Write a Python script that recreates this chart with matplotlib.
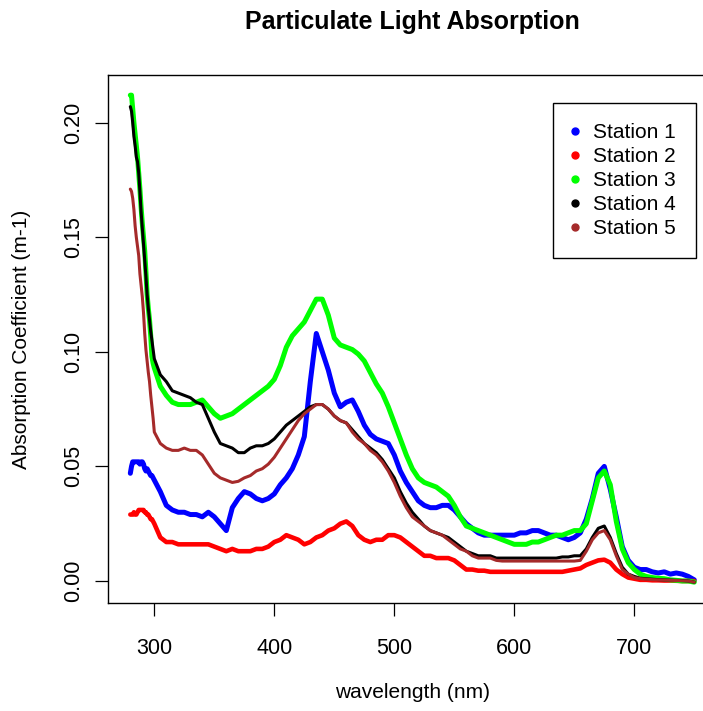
import matplotlib
matplotlib.use("Agg")
import matplotlib.pyplot as plt
from matplotlib.lines import Line2D
from matplotlib.ticker import FormatStrFormatter

plt.rcParams['font.family'] = ['Liberation Sans', 'DejaVu Sans']

# wavelength grid (nm): 1 nm steps over the steep UV part, then 5 nm steps
wavelength = list(range(280, 301)) + list(range(305, 751, 5))

station1 = [0.047, 0.050, 0.052, 0.052, 0.052, 0.052, 0.052, 0.052, 0.051, 0.052, 0.052,
            0.051, 0.049, 0.048, 0.049, 0.048, 0.047, 0.046, 0.046, 0.045, 0.044,
            0.039, 0.033, 0.031, 0.030, 0.030, 0.029, 0.029, 0.028, 0.030, 0.028,
            0.025, 0.022, 0.032, 0.036, 0.039, 0.038, 0.036, 0.035, 0.036, 0.038,
            0.042, 0.045, 0.049, 0.055, 0.063, 0.087, 0.108, 0.100, 0.092, 0.082,
            0.076, 0.078, 0.079, 0.074, 0.068, 0.064, 0.062, 0.061, 0.060, 0.055,
            0.048, 0.043, 0.039, 0.035, 0.033, 0.032, 0.032, 0.033, 0.033, 0.031,
            0.028, 0.025, 0.023, 0.021, 0.020, 0.020, 0.020, 0.020, 0.020, 0.020,
            0.021, 0.021, 0.022, 0.022, 0.021, 0.020, 0.020, 0.019, 0.018, 0.019,
            0.021, 0.027, 0.036, 0.047, 0.050, 0.040, 0.028, 0.015, 0.009, 0.006,
            0.005, 0.005, 0.004, 0.0035, 0.004, 0.003, 0.0035, 0.003, 0.002, 0.0005]

station2 = [0.029, 0.029, 0.029, 0.030, 0.029, 0.029, 0.030, 0.031, 0.031, 0.031, 0.031,
            0.031, 0.030, 0.030, 0.029, 0.029, 0.028, 0.027, 0.027, 0.026, 0.025,
            0.019, 0.017, 0.017, 0.016, 0.016, 0.016, 0.016, 0.016, 0.016, 0.015,
            0.014, 0.013, 0.014, 0.013, 0.013, 0.013, 0.014, 0.014, 0.015, 0.017,
            0.018, 0.020, 0.019, 0.018, 0.016, 0.017, 0.019, 0.020, 0.022, 0.023,
            0.025, 0.026, 0.024, 0.020, 0.018, 0.017, 0.018, 0.018, 0.020, 0.020,
            0.019, 0.017, 0.015, 0.013, 0.011, 0.011, 0.010, 0.010, 0.010, 0.009,
            0.007, 0.005, 0.005, 0.0045, 0.0045, 0.004, 0.004, 0.004, 0.004, 0.004,
            0.004, 0.004, 0.004, 0.004, 0.004, 0.004, 0.004, 0.004, 0.0045, 0.005,
            0.0055, 0.007, 0.008, 0.009, 0.0093, 0.008, 0.005, 0.003, 0.0015, 0.001,
            0.0005, 0.0005, 0.0003, 0.0003, 0.0002, 0.0002, 0.0001, 0.0, 0.0, 0.0]

station3 = [0.212, 0.212, 0.206, 0.200, 0.195, 0.190, 0.185, 0.178, 0.171, 0.163, 0.156,
            0.150, 0.144, 0.135, 0.125, 0.119, 0.114, 0.107, 0.098, 0.095, 0.093,
            0.085, 0.081, 0.078, 0.077, 0.077, 0.077, 0.078, 0.079, 0.076, 0.073,
            0.071, 0.072, 0.073, 0.075, 0.077, 0.079, 0.081, 0.083, 0.085, 0.088,
            0.094, 0.102, 0.107, 0.110, 0.113, 0.118, 0.123, 0.123, 0.116, 0.106,
            0.103, 0.102, 0.101, 0.099, 0.096, 0.091, 0.086, 0.082, 0.076, 0.069,
            0.062, 0.055, 0.049, 0.045, 0.043, 0.042, 0.041, 0.039, 0.037, 0.033,
            0.028, 0.024, 0.023, 0.022, 0.021, 0.020, 0.019, 0.018, 0.017, 0.016,
            0.016, 0.016, 0.017, 0.017, 0.018, 0.019, 0.020, 0.020, 0.021, 0.022,
            0.022, 0.025, 0.035, 0.045, 0.048, 0.042, 0.026, 0.014, 0.008, 0.005,
            0.003, 0.002, 0.0015, 0.0012, 0.001, 0.0005, 0.0003, 0.0, 0.0, -0.0005]

station4 = [0.207, 0.205, 0.200, 0.194, 0.190, 0.185, 0.183, 0.178, 0.170, 0.161, 0.154,
            0.147, 0.140, 0.133, 0.125, 0.119, 0.114, 0.109, 0.105, 0.101, 0.097,
            0.090, 0.087, 0.083, 0.082, 0.081, 0.080, 0.078, 0.077, 0.071, 0.065,
            0.060, 0.059, 0.058, 0.056, 0.056, 0.058, 0.059, 0.059, 0.060, 0.062,
            0.065, 0.068, 0.070, 0.072, 0.074, 0.076, 0.077, 0.077, 0.075, 0.072,
            0.070, 0.069, 0.066, 0.063, 0.060, 0.058, 0.056, 0.053, 0.049, 0.045,
            0.039, 0.034, 0.030, 0.027, 0.024, 0.022, 0.021, 0.020, 0.019, 0.017,
            0.015, 0.013, 0.012, 0.011, 0.011, 0.011, 0.010, 0.010, 0.010, 0.010,
            0.010, 0.010, 0.010, 0.010, 0.010, 0.010, 0.010, 0.0105, 0.0105, 0.011,
            0.011, 0.014, 0.019, 0.023, 0.024, 0.019, 0.012, 0.006, 0.003, 0.002,
            0.0012, 0.001, 0.0008, 0.0006, 0.0005, 0.0004, 0.0003, 0.0002, 0.0, -0.0005]

station5 = [0.171, 0.170, 0.167, 0.162, 0.155, 0.150, 0.146, 0.142, 0.134, 0.129, 0.124,
            0.117, 0.108, 0.101, 0.096, 0.091, 0.087, 0.081, 0.076, 0.071, 0.065,
            0.060, 0.058, 0.057, 0.057, 0.058, 0.057, 0.057, 0.055, 0.051, 0.047,
            0.045, 0.044, 0.043, 0.0435, 0.045, 0.046, 0.048, 0.049, 0.051, 0.054,
            0.058, 0.062, 0.066, 0.070, 0.073, 0.075, 0.077, 0.077, 0.075, 0.072,
            0.070, 0.069, 0.065, 0.062, 0.060, 0.057, 0.055, 0.052, 0.048, 0.043,
            0.037, 0.032, 0.028, 0.026, 0.024, 0.022, 0.021, 0.020, 0.018, 0.016,
            0.014, 0.013, 0.011, 0.010, 0.010, 0.010, 0.009, 0.0087, 0.0087, 0.0087,
            0.0087, 0.0087, 0.0087, 0.0087, 0.0087, 0.0087, 0.0087, 0.0087, 0.0087, 0.0087,
            0.009, 0.013, 0.018, 0.021, 0.022, 0.018, 0.011, 0.005, 0.003, 0.0015,
            0.001, 0.0008, 0.0006, 0.0005, 0.0004, 0.0003, 0.0002, 0.0001, 0.0, -0.0005]

labels = ['Station 1', 'Station 2', 'Station 3', 'Station 4', 'Station 5']
colors = ['#0000FF', '#FF0000', '#00FF00', '#000000', '#A52A2A']
widths = [3.6, 3.3, 3.6, 2.2, 2.2]

fig = plt.figure(figsize=(7.03, 7.11), dpi=100)
# plot region runs a little past the right edge of the picture, as in the original
ax = fig.add_axes([108 / 703, 108 / 711, 608.6 / 703, 528 / 711])

series = [station1, station2, station3, station4, station5]
for s, c, w in zip(series, colors, widths):
    ax.plot(wavelength, s, '-', color=c, lw=w,
            solid_joinstyle='round', solid_capstyle='round')

ax.set_xlim(261.4, 768.6)
ax.set_ylim(-0.0096, 0.2208)
ax.set_xticks([300, 400, 500, 600, 700])
ax.set_yticks([0.0, 0.05, 0.10, 0.15, 0.20])
ax.yaxis.set_major_formatter(FormatStrFormatter('%.2f'))
ax.tick_params(length=9.5, width=0.9, labelsize=15.5, direction='out')
ax.tick_params(axis='x', pad=16)
ax.tick_params(axis='y', pad=8)
for t in ax.get_yticklabels():
    t.set_rotation(90)
    t.set_va('center')
for sp in ax.spines.values():
    sp.set_linewidth(1.0)

fig.text(412.5 / 703, 1 - 22 / 711, 'Particulate Light Absorption',
         ha='center', va='center', fontsize=18, fontweight='bold')
fig.text(412.5 / 703, 1 - 692 / 711, 'wavelength (nm)',
         ha='center', va='center', fontsize=15)
fig.text(22 / 703, 1 - 339.5 / 711, 'Absorption Coefficient (m-1)',
         ha='center', va='center', rotation=90, fontsize=15)

handles = [Line2D([], [], ls='none', marker='o', markersize=5, color=c) for c in colors]
leg = ax.legend(handles, labels, loc='upper left',
                bbox_to_anchor=(552.7 / 703, 1 - 103.3 / 711),
                bbox_transform=fig.transFigure, fontsize=15,
                frameon=True, fancybox=False, framealpha=1, edgecolor='black',
                borderpad=0.95, handlelength=0.2, handletextpad=0.8,
                labelspacing=0.24, borderaxespad=0)
leg.get_frame().set_linewidth(1.0)

plt.savefig("out.png", dpi=100)
